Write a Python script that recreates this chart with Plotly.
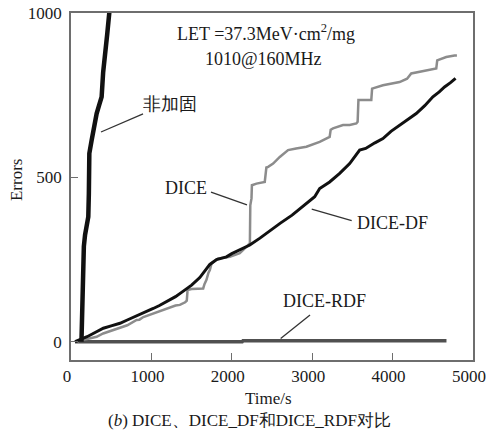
import plotly.graph_objects as go

# ---- data ----
t_nh = [130, 140, 150, 160, 175, 195, 215, 222, 228, 257, 290, 319, 350, 381, 400, 422, 451, 476, 490]
e_nh = [0, 120, 240, 290, 325, 350, 380, 450, 573, 613, 660, 694, 720, 745, 820, 887, 937, 1000, 1030]

t_df = [50, 100, 200, 300, 402, 500, 609, 700, 816, 900, 1023, 1100, 1230, 1300, 1375, 1437, 1500,
        1602, 1727, 1810, 1934, 2000, 2100, 2224, 2350, 2452, 2600, 2750, 2900, 2969, 3031, 3093,
        3217, 3342, 3466, 3590, 3665, 3780, 3880, 3980, 4087, 4190, 4294, 4400, 4501, 4580, 4646,
        4720, 4783]
e_df = [0, 5, 15, 28, 41, 48, 56, 66, 78, 87, 101, 110, 127, 137, 150, 162, 172,
        195, 235, 250, 258, 268, 280, 294, 315, 334, 360, 385, 415, 431, 441, 466,
        486, 512, 542, 583, 588, 605, 618, 640, 659, 676, 694, 718, 745, 760, 775,
        788, 801]

t_dice = [80, 112, 200, 319, 400, 500, 609, 700, 816, 850, 900, 1023, 1100, 1230, 1300, 1354, 1420,
          1440, 1450, 1500, 1644, 1660, 1685, 1710, 1727, 1748, 1830, 1975, 2099, 2203, 2225, 2230,
          2245, 2250, 2307, 2410, 2430, 2452, 2514, 2597, 2700, 2800, 2928, 3093, 3217, 3230, 3259,
          3383, 3466, 3549, 3565, 3575, 3735, 3745, 3880, 4087, 4180, 4232, 4418, 4543, 4555, 4667,
          4770, 4800]
e_dice = [0, 5, 8, 15, 25, 33, 41, 50, 66, 67, 75, 86, 92, 106, 110, 112, 120,
          125, 157, 160, 162, 175, 188, 210, 218, 238, 253, 258, 269, 294, 300, 415,
          436, 476, 481, 486, 530, 532, 542, 562, 583, 588, 593, 608, 623, 645, 649,
          659, 659, 664, 669, 735, 735, 770, 780, 790, 800, 816, 826, 831, 856, 866,
          871, 871]

t_rdf = [50, 2130, 2140, 4670]
e_rdf = [0, 0, 3, 3]

x_ticks = [0, 1000, 2000, 3000, 4000, 5000]
y_ticks = [0, 500, 1000]

SERIF = "Liberation Serif"

fig = go.Figure()
fig.add_trace(go.Scatter(x=t_rdf, y=e_rdf, mode="lines", line=dict(color="#505050", width=3.5), name="DICE-RDF"))
fig.add_trace(go.Scatter(x=t_dice, y=e_dice, mode="lines", line=dict(color="#8c8c8c", width=2.5), name="DICE"))
fig.add_trace(go.Scatter(x=t_df, y=e_df, mode="lines", line=dict(color="#111111", width=3), name="DICE-DF"))
fig.add_trace(go.Scatter(x=t_nh, y=e_nh, mode="lines", line=dict(color="#111111", width=4.5), name="非加固"))

axis_common = dict(showline=True, linecolor="#6e6e6e", linewidth=1.5, mirror=True,
                   ticks="inside", ticklen=7, tickcolor="#6e6e6e", tickwidth=1.2,
                   showgrid=False, zeroline=False, ticklabeloverflow="allow", automargin=False,
                   tickfont=dict(family=SERIF, size=17, color="#1a1a1a"))

fig.update_xaxes(range=[0, 5000], tickvals=x_ticks, ticktext=[str(v) for v in x_ticks],
                 ticklabelshift=-4, **axis_common)
fig.update_yaxes(range=[-55.7, 1000], tickvals=y_ticks, ticktext=[str(v) for v in y_ticks],
                 ticklabelstandoff=4, **axis_common)

txt = dict(family=SERIF, size=18, color="#1a1a1a")
ann = [
    dict(x=2425, y=940, text="LET =37.3MeV·cm<sup>2</sup>/mg"),
    dict(x=2388, y=860, text="1010@160MHz"),
    dict(x=1231, y=723, text="非加固"),
    dict(x=1430, y=468, text="DICE"),
    dict(x=3993, y=361, text="DICE-DF"),
    dict(x=3159, y=124, text="DICE-RDF"),
]
annotations = [dict(xref="x", yref="y", showarrow=False, font=txt,
                    xanchor="center", yanchor="middle", **a) for a in ann]
lab = dict(family=SERIF, size=17, color="#1a1a1a")
annotations += [
    dict(xref="paper", yref="paper", x=-0.134, y=0.519, text="Errors", textangle=-90,
         xanchor="center", yanchor="middle", showarrow=False, font=lab),
    dict(xref="paper", yref="paper", x=0.492, y=-0.110, text="Time/s",
         xanchor="center", yanchor="middle", showarrow=False, font=lab),
    dict(xref="paper", yref="paper", x=0.443, y=-0.173, text="(<i>b</i>) DICE、DICE_DF和DICE_RDF对比",
         xanchor="center", yanchor="middle", showarrow=False, font=lab),
]

leaders = [
    (373, 638, 896, 693),
    (1741, 455, 2189, 416),
    (2994, 403, 3491, 368),
    (2608, 10, 2973, 81),
]
shapes = [dict(type="line", xref="x", yref="y", x0=a, y0=b, x1=c, y1=d,
               line=dict(color="#333333", width=1.3)) for a, b, c, d in leaders]

fig.update_layout(width=486, height=435, margin=dict(l=71, r=13, t=13, b=75, autoexpand=False),
                  plot_bgcolor="white", paper_bgcolor="white", showlegend=False,
                  annotations=annotations, shapes=shapes)

fig.write_html("out.html")
